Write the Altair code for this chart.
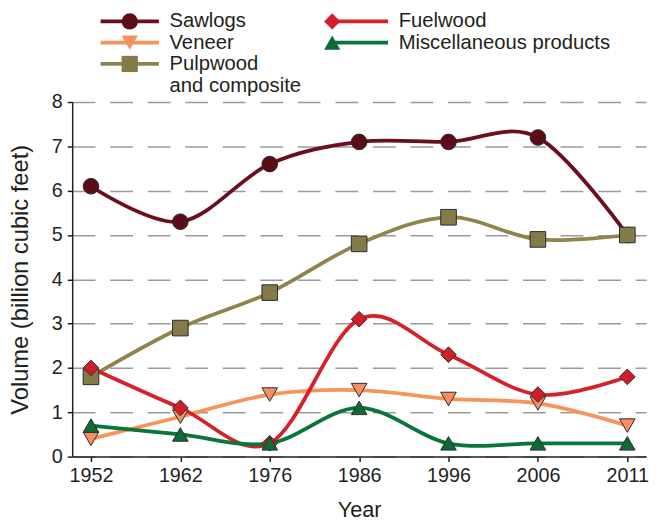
import altair as alt
import pandas as pd

years = ["1952", "1962", "1976", "1986", "1996", "2006", "2011"]
series = ["Sawlogs", "Veneer", "Pulpwood and composite", "Fuelwood", "Miscellaneous products"]
sawlogs = [6.1, 5.3, 6.6, 7.1, 7.1, 7.2, 5.0]
veneer = [0.4, 0.9, 1.4, 1.5, 1.3, 1.2, 0.7]
pulpwood = [1.8, 2.9, 3.7, 4.8, 5.4, 4.9, 5.0]
fuelwood = [2.0, 1.1, 0.3, 3.1, 2.3, 1.4, 1.8]
misc = [0.7, 0.5, 0.3, 1.1, 0.3, 0.3, 0.3]

line_colors = ["#6b0e1e", "#f7945c", "#8f844c", "#d6202a", "#0b7438"]
fill_colors = ["#5c0c16", "#f59060", "#857b48", "#d01f2a", "#0e6b35"]
shapes = ["circle", "triangle-down", "square", "diamond", "triangle-up"]

values = [sawlogs, veneer, pulpwood, fuelwood, misc]
rows = []
for s, vals in zip(series, values):
    for y, v in zip(years, vals):
        rows.append({"Year": y, "Series": s, "Line": s, "Volume": v})
df = pd.DataFrame(rows)

FONT = "Liberation Sans"
TXT = "#231f20"
label_expr = "datum.label == 'Pulpwood and composite' ? ['Pulpwood', 'and composite'] : datum.label"

x_enc = alt.X("Year:O", sort=years, scale=alt.Scale(type="point", padding=0.21),
              axis=alt.Axis(title="Year", labelAngle=0, tickSize=5, labelPadding=4,
                            titlePadding=15, grid=False))
y_enc = alt.Y("Volume:Q", scale=alt.Scale(domain=[0, 8], nice=False),
              axis=alt.Axis(title="Volume (billion cubic feet)", values=[0, 1, 2, 3, 4, 5, 6, 7, 8],
                            tickSize=5, labelPadding=5, titlePadding=19, grid=True,
                            gridDash=[23, 15], gridColor="#9a9a9a", gridWidth=1.5))

# legend geometry (shared by the line legend and the marker legend)
LX = 48
LY = -92
LFS = 20.5
LINE_LEN = 59
LINE_PATH = "M-7,0L7,0"
LINE_SIZE = (LINE_LEN / 7.0) ** 2
LBL_OFF = 30
COLPAD = 21
ROWPAD = 0.6

common = dict(orient="none", legendX=LX, legendY=LY, columns=2, title=None,
              labelFontSize=LFS, labelFont=FONT, labelOffset=LBL_OFF,
              columnPadding=COLPAD, rowPadding=ROWPAD, labelExpr=label_expr,
              labelLimit=400)

lines = alt.Chart(df).mark_line(interpolate="cardinal", strokeWidth=3.8).encode(
    x=x_enc, y=y_enc,
    color=alt.Color("Line:N", sort=series,
                    scale=alt.Scale(range=line_colors),
                    legend=alt.Legend(symbolType=LINE_PATH, symbolSize=LINE_SIZE,
                                      symbolStrokeWidth=3.8, labelColor=TXT, zindex=1,
                                      **common)),
)

m_legend = dict(symbolSize=270, symbolStrokeColor="#2b2b2b", symbolStrokeWidth=1,
                symbolOpacity=1, labelColor="transparent", zindex=2, **common)

points = alt.Chart(df).mark_point(filled=True, opacity=1, size=250, stroke="#2b2b2b",
                                  strokeWidth=1).encode(
    x=x_enc, y=y_enc,
    fill=alt.Fill("Series:N", sort=series,
                  scale=alt.Scale(domain=series, range=fill_colors),
                  legend=alt.Legend(**m_legend)),
    shape=alt.Shape("Series:N", sort=series, scale=alt.Scale(domain=series, range=shapes),
                    legend=alt.Legend(**m_legend)),
)

chart = alt.layer(lines, points).properties(
    width=581, height=359,
    autosize=alt.AutoSizeParams(type="none"),
    padding={"left": 65, "top": 92, "right": 6, "bottom": 62},
).configure_view(stroke=None).configure_axis(
    labelFont=FONT, titleFont=FONT, labelFontSize=20, titleFontSize=22,
    labelColor=TXT, titleColor=TXT, titleFontWeight="normal",
    domainColor="#231f20", tickColor="#231f20", domainWidth=1.5, tickWidth=1.5,
).configure_axisY(titleFontSize=24)

chart.save("out.html", embed_options={"renderer": "svg", "actions": False})
